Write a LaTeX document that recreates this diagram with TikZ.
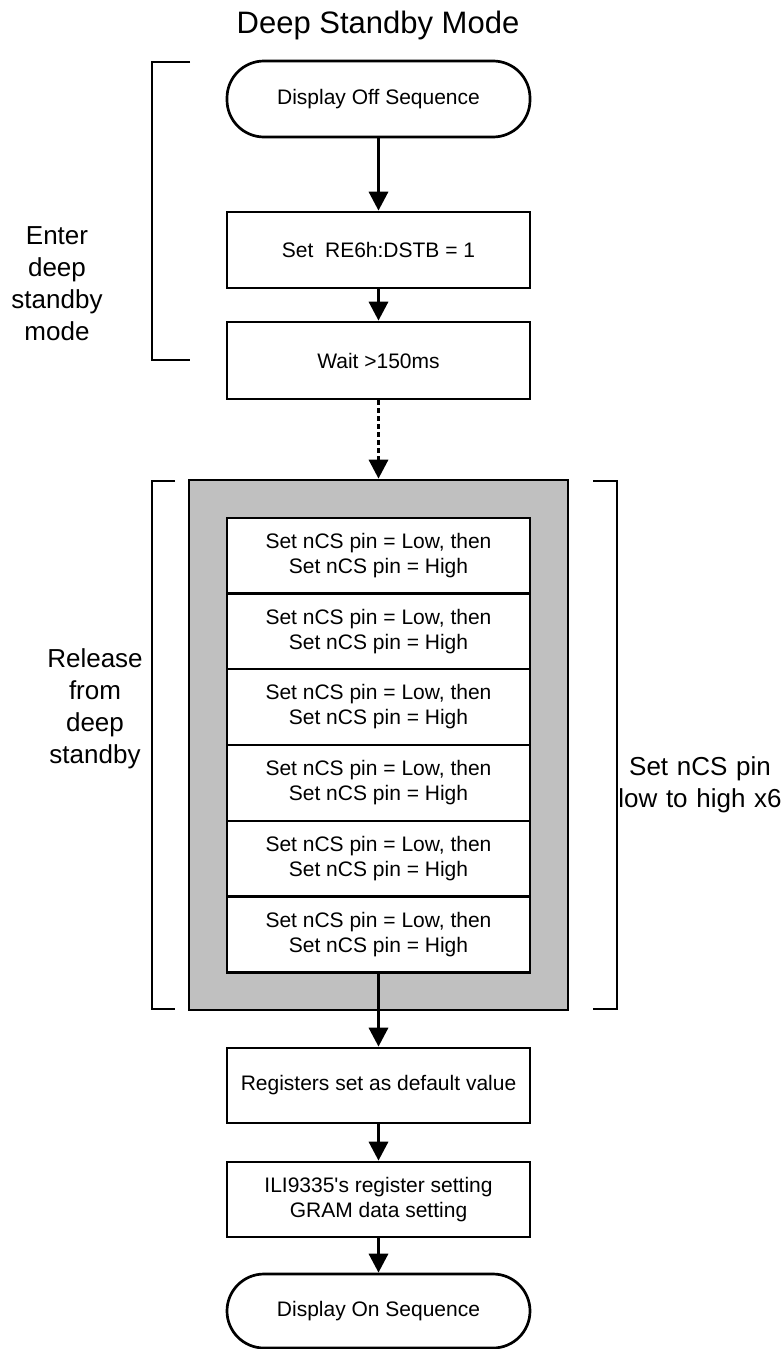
\documentclass[tikz,border=0pt]{standalone}
\usepackage{fontspec}
\setmainfont{Liberation Sans}
\usetikzlibrary{arrows.meta}
\definecolor{grayfill}{RGB}{192,192,192}
\begin{document}
\begin{tikzpicture}[x=1pt,y=-1pt,
  box/.style={draw, line width=2.7pt, minimum width=303pt, inner sep=0pt, align=center, font=\fontsize{21}{25}\selectfont},
  term/.style={box, rounded corners=37pt},
  flow/.style={line width=3.4pt, -{Triangle[width=19pt,length=19pt]}},
  brk/.style={line width=1.3pt},
  lbl/.style={font=\fontsize{26}{32}\selectfont, align=center, text width=170pt, anchor=base, inner sep=0pt}]
\useasboundingbox (0,0) rectangle (783,1349);

\node[font=\fontsize{31}{37}\selectfont, anchor=base, inner sep=0pt] (title) at (378,33) {Deep Standby Mode};

\node[term, minimum height=76pt] (off) at (378.5,99) {Display Off Sequence};
\node[box, minimum height=76pt] (dstb) at (378.5,250) {Set\ \ RE6h:DSTB = 1};
\node[box, minimum height=77pt] (wait) at (378.5,360.5) {Wait >150ms};

\node[draw, line width=2.7pt, fill=grayfill, minimum width=379pt, minimum height=530pt, inner sep=0pt] (grp) at (378.5,745) {};
\foreach \i/\y in {1/556,2/631.5,3/707,4/783,5/859,6/934.5}
  \node[box, fill=white, minimum height=76pt] (c\i) at (378.5,\y) {Set nCS pin = Low, then\\Set nCS pin = High};

\node[box, minimum height=75pt] (reg) at (378.5,1085.5) {Registers set as default value};
\node[box, minimum height=75pt] (ili) at (378.5,1199.5) {ILI9335\textquotesingle s register setting\\GRAM data setting};
\node[term, minimum height=74pt] (on) at (378.5,1311) {Display On Sequence};

\draw[flow] (off) -- (dstb);
\draw[flow] (dstb) -- (wait);
\draw[flow, dash pattern=on 5pt off 3pt] (wait) -- (grp);
\draw[flow] (c6) -- (reg);
\draw[flow] (reg) -- (ili);
\draw[flow] (ili) -- (on);

\draw[brk] (190,62) -- (152,62) -- (152,360) -- (190,360);
\draw[brk] (175,481) -- (152,481) -- (152,1009) -- (175,1009);
\draw[brk] (593,481) -- (617,481) -- (617,1009) -- (593,1009);

\node[lbl] (enter) at (57,244) {Enter\\deep\\standby\\mode};
\node[lbl] (release) at (95,667) {Release\\from\\deep\\standby};
\node[lbl] (setx6) at (700,775) {Set nCS pin\\low to high x6};
\end{tikzpicture}
\end{document}
